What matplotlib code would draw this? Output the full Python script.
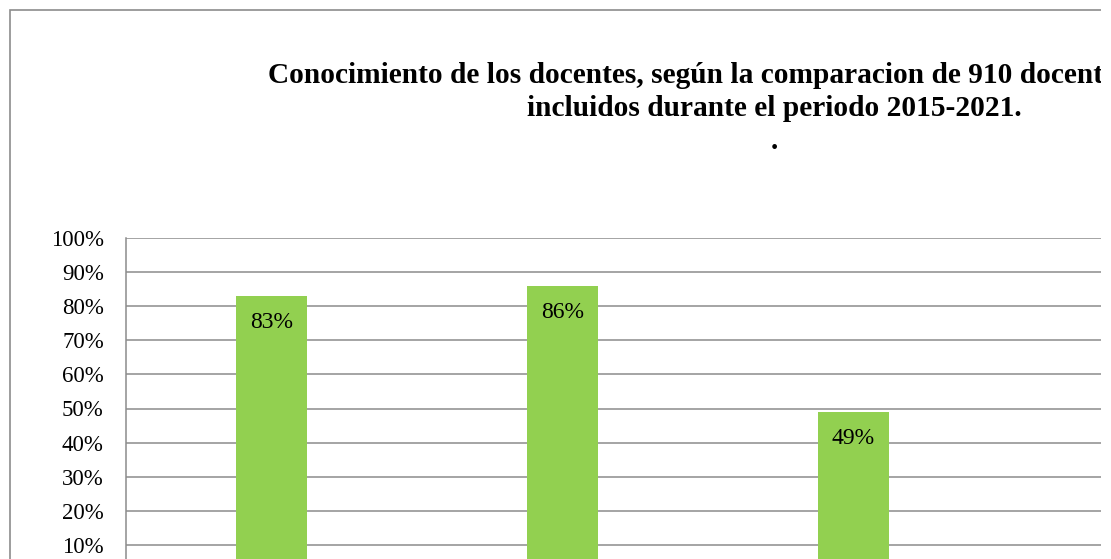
import matplotlib.pyplot as plt
from matplotlib.patches import Rectangle
from matplotlib.ticker import PercentFormatter

# Datos del gráfico
categorias = ['Grupo 1', 'Grupo 2', 'Grupo 3']
valores = [0.83, 0.86, 0.49]
etiquetas = ['83%', '86%', '49%']
ticks_y = [0.1, 0.2, 0.3, 0.4, 0.5, 0.6, 0.7, 0.8, 0.9, 1.0]

titulo_1 = 'Conocimiento de los docentes, según la comparacion de 910 docentes'
titulo_2 = 'incluidos durante el periodo 2015-2021.'
titulo_3 = '.'

W, H = 1111, 559
fig = plt.figure(figsize=(W / 100, H / 100), dpi=100)
plt.rcParams['font.family'] = ['Liberation Serif', 'DejaVu Serif']

# Ejes: parte inferior recortada como en la imagen original
ax = fig.add_axes([126 / W, -20 / H, 975 / W, 341 / H])
pos = list(range(len(categorias)))
ax.bar(pos, valores, width=0.247, color='#92D050', zorder=3)
ax.set_xlim(-0.5, -0.5 + 975 / 291)
ax.set_ylim(0, 1)
ax.set_yticks(ticks_y)
ax.yaxis.set_major_formatter(PercentFormatter(1.0, decimals=0))
ax.tick_params(axis='y', length=0, pad=16, labelsize=16.5)
ax.set_xticks([])
ax.grid(axis='y', color='#8c8c8c', linewidth=1.1, zorder=0)
for s in ['top', 'right', 'bottom']:
    ax.spines[s].set_visible(False)
ax.spines['left'].set_color('#8c8c8c')
ax.spines['left'].set_linewidth(1.1)

for x, v, t in zip(pos, valores, etiquetas):
    ax.annotate(t, (x, v), xytext=(0, -27), textcoords='offset pixels',
                ha='center', va='center', fontsize=17, zorder=4)

# Título (la primera línea queda cortada por el borde derecho)
fig.text(268 / W, 1 - 83 / H, titulo_1, ha='left', va='baseline',
         fontsize=21.2, fontweight='bold', zorder=5)
fig.text(774 / W, 1 - 116 / H, titulo_2, ha='center', va='baseline',
         fontsize=21.2, fontweight='bold', zorder=5)
fig.text(774 / W, 1 - 149 / H, titulo_3, ha='center', va='baseline',
         fontsize=21.2, fontweight='bold', zorder=5)

# Borde del área del gráfico
fig.patches.append(Rectangle((10 / W, -0.1), 1.2, 1 - 10 / H + 0.1,
                             transform=fig.transFigure, fill=False,
                             edgecolor='#8c8c8c', linewidth=1.2))
# Franja blanca a la derecha (recorte)
fig.patches.append(Rectangle((1101 / W, 0), 1, 1, transform=fig.transFigure,
                             facecolor='white', edgecolor='none', zorder=10))

plt.savefig('out.png', dpi=100)
